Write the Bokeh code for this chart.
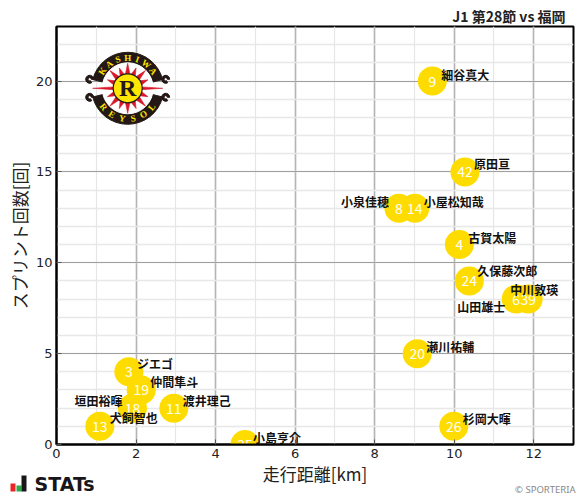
import math
from bokeh.plotting import figure
from bokeh.layouts import column
from bokeh.core.properties import value
from bokeh.models import ColumnDataSource, FixedTicker, Range1d
from bokeh.embed import file_html
from bokeh.resources import INLINE

# ---- data ----
numbers = ["3", "19", "18", "11", "13", "25", "9", "42", "8", "14", "4", "24", "6", "39", "20", "26"]
names = ["ジエゴ", "仲間隼斗", "垣田裕暉", "渡井理己", "犬飼智也", "小島亨介", "細谷真大", "原田亘",
         "小泉佳穂", "小屋松知哉", "古賀太陽", "久保藤次郎", "山田雄士", "中川敦瑛", "瀬川祐輔", "杉岡大暉"]
distance_km = [1.82, 2.13, 1.91, 2.95, 1.09, 4.74, 9.45, 10.27, 8.61, 9.01, 10.13, 10.38, 11.56, 11.86, 9.07, 9.99]
sprints = [4, 3, 2, 2, 1, 0, 20, 15, 13, 13, 11, 9, 8, 8, 5, 1]
x_ticks = [0, 2, 4, 6, 8, 10, 12]
y_ticks = [0, 5, 10, 15, 20]
x_minor = list(range(0, 14))
y_minor = list(range(0, 24))
title_text = "J1 第28節 vs 福岡"
x_title = "走行距離[km]"
y_title = "スプリント回数[回]"

# ---- name label placement (style, px from the marker centre) ----
name_dx = [8, 9, -10, 9, 10, 8, 9, 9, -10, 9, 9, 8, -11, -18, 9, 9]
name_dy = [-8, -8, -8, -8, -9, -7, -7, -8, -7, -7, -7, -10, 7, -10, -7, -8]
name_align = ["left", "left", "right", "left", "left", "left", "left", "left",
              "right", "left", "left", "left", "right", "left", "left", "left"]

FONT = "Noto Sans CJK JP"
YELLOW = "#FFDC00"
XMAX, YMAX = 13, 23

p = figure(width=583, height=496, output_backend="svg", toolbar_location=None,
           x_range=Range1d(0, XMAX), y_range=Range1d(0, YMAX),
           min_border_left=56, min_border_right=10, min_border_top=26, min_border_bottom=52)
p.frame_align = False
p.outline_line_color = "#000000"
p.outline_line_width = 2
p.border_fill_color = None

p.title.text = title_text
p.title.align = "right"
p.title.offset = 8
p.title.standoff = 2
p.title.text_font = FONT
p.title.text_font_style = "bold"
p.title.text_font_size = "14px"
p.title.text_color = "#222222"

for ax, ticks, minor, lab in ((p.xaxis[0], x_ticks, x_minor, x_title), (p.yaxis[0], y_ticks, y_minor, y_title)):
    ax.ticker = FixedTicker(ticks=ticks, minor_ticks=minor)
    ax.axis_label = lab
    ax.axis_label_text_font = FONT
    ax.axis_label_text_font_style = "normal"
    ax.axis_label_text_font_size = "17px"
    ax.axis_label_text_color = "#222222"
    ax.major_label_text_font = "DejaVu Sans"
    ax.major_label_text_font_size = "13px"
    ax.major_label_text_color = "#222222"
    ax.axis_line_color = "#000000"
    ax.axis_line_width = 2
    ax.major_tick_in = 5
    ax.major_tick_out = 0
    ax.major_tick_line_color = "#555555"
    ax.minor_tick_in = 0
    ax.minor_tick_out = 0
    ax.major_label_standoff = 4
p.xaxis[0].axis_label_standoff = 0
p.yaxis[0].axis_label_standoff = 1

p.xgrid[0].grid_line_color = "#b4b4b4"
p.xgrid[0].grid_line_width = 1.6
p.ygrid[0].grid_line_color = "#a0a0a0"
p.ygrid[0].grid_line_width = 1.1
p.xgrid[0].minor_grid_line_color = "#e6e6e6"
p.xgrid[0].minor_grid_line_width = 1.2
p.ygrid[0].minor_grid_line_color = "#e8e8e8"
p.ygrid[0].minor_grid_line_width = 1.4
p.xgrid[0].ticker = p.xaxis[0].ticker
p.ygrid[0].ticker = p.yaxis[0].ticker

# ---- club crest, drawn around an anchor in data space ----
LX, LY = 1.79, 19.6
R = lambda a: math.radians(a)
BLACK = "#231815"
RED = "#D8182A"
def ux(dx): return LX + dx * XMAX / 517
def uy(dy): return LY + dy * YMAX / 418

# side scrolls
for sx in (-1, 1):
    for sy in (-1, 1):
        p.annular_wedge(x=[ux(sx * 38)], y=[uy(sy * 9)], inner_radius=1.6, outer_radius=4,
                        inner_radius_units="screen", outer_radius_units="screen",
                        start_angle=[R(0)], end_angle=[R(300)], color=BLACK)
# black bands
p.annular_wedge(x=[LX], y=[LY], inner_radius=25.5, outer_radius=36,
                inner_radius_units="screen", outer_radius_units="screen",
                start_angle=[R(14)], end_angle=[R(166)], color=BLACK)
p.annular_wedge(x=[LX], y=[LY], inner_radius=25.5, outer_radius=36,
                inner_radius_units="screen", outer_radius_units="screen",
                start_angle=[R(194)], end_angle=[R(346)], color=BLACK)
# white disc
p.scatter(x=[LX], y=[LY], size=51, color="#ffffff", marker="circle")
# sun rays
ray_xs, ray_ys = [], []
for k in range(16):
    a = 2 * math.pi * k / 16
    tip = 35 if k in (0, 8) else (25 if k % 2 == 0 else 22)
    half = 0.10 if k in (0, 8) else 0.17
    ray_xs.append([ux(14 * math.cos(a - half)), ux(tip * math.cos(a)), ux(14 * math.cos(a + half))])
    ray_ys.append([uy(14 * math.sin(a - half)), uy(tip * math.sin(a)), uy(14 * math.sin(a + half))])
p.patches(ray_xs, ray_ys, fill_color=RED, line_color=RED, line_width=0.6)
# centre disc
p.scatter(x=[LX], y=[LY], size=29, fill_color="#FFE600", line_color=BLACK, line_width=1.2, marker="circle")
p.text(x=[LX], y=[LY], text=["R"], text_font=value("Liberation Serif"), text_font_style="bold", text_font_size="24px",
       text_align="center", text_baseline="middle", text_color=BLACK)
# ring lettering
for word, a0, a1, r, flip in (("KASHIWA", 146, 34, 30.5, False), ("REYSOL", 218, 322, 30.5, True)):
    n = len(word)
    xs, ys, angs = [], [], []
    for i in range(n):
        a = a0 + (a1 - a0) * i / (n - 1)
        xs.append(ux(r * math.cos(R(a))))
        ys.append(uy(r * math.sin(R(a))))
        angs.append(R(a + 90 if flip else a - 90))
    p.text(x=xs, y=ys, text=list(word), angle=angs, text_font=value("Liberation Serif"), text_font_style="bold",
           text_font_size="9px", text_align="center", text_baseline="middle", text_color="#FFE600")

# ---- points ----
src = ColumnDataSource(dict(x=distance_km, y=sprints, number=numbers, name=names,
                            dx=name_dx, dy=name_dy, align=name_align))
p.scatter("x", "y", source=src, size=29, marker="circle", fill_color=YELLOW, line_color=YELLOW, line_width=0)
p.text("x", "y", text="number", source=src, text_color="#ffffff", text_font=value(FONT), text_font_size="14px",
       text_align="center", text_baseline="middle")
p.text("x", "y", text="name", source=src, x_offset="dx", y_offset="dy", text_align="align",
       text_baseline="middle", text_font=value(FONT), text_font_style="bold", text_font_size="12px",
       text_color="#111111")

# ---- footer strip laid over the bottom of the page (its own figure, px-like range) ----
FOOT_H = 26
foot = figure(width=583, height=FOOT_H, output_backend="svg", toolbar_location=None,
              x_range=Range1d(0, 583), y_range=Range1d(496, 496 - FOOT_H),
              x_axis_location=None, y_axis_location=None,
              min_border_left=0, min_border_right=0, min_border_top=0, min_border_bottom=0,
              margin=(-FOOT_H, 0, 0, 0))
foot.frame_align = False
foot.grid.visible = False
foot.outline_line_color = None
foot.background_fill_color = None
foot.border_fill_color = None
foot.quad(left=[10, 16, 21], right=[15, 21, 26], top=[483, 485, 475], bottom=[491, 491, 491],
          color=["#E8262A", "#2EA84A", "#17171b"], line_width=0)
foot.text(x=[34], y=[483], text=["STATs"], text_font=value("DejaVu Sans"), text_font_style="bold",
          text_font_size="19px", text_align="left", text_baseline="middle", text_color="#17171b")
foot.text(x=[575], y=[489], text=["© SPORTERIA"], text_font=value("Noto Sans"),
          text_font_size="9.5px", text_align="right", text_baseline="middle", text_color="#888888")

open("out.html", "w").write(file_html(column(p, foot, spacing=0), INLINE))
